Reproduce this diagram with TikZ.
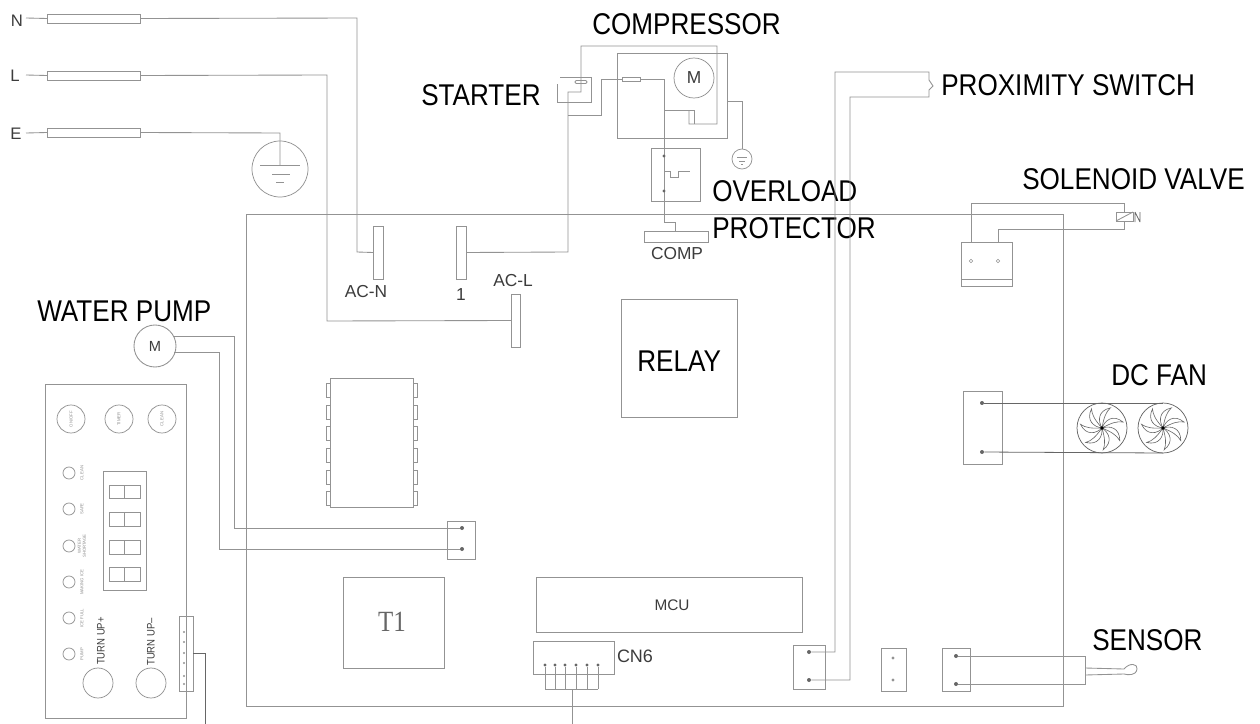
\documentclass[tikz,border=0pt]{standalone}
\usepackage{fontspec}
\setmainfont{Liberation Sans}
\newfontfamily\narrowf[FakeStretch=0.87]{Liberation Sans}
\newfontfamily\serf[FakeStretch=0.85]{Liberation Serif}
\definecolor{wire}{HTML}{939393}
\definecolor{darkw}{HTML}{666666}
\definecolor{smalltxt}{HTML}{3C3C3C}
\definecolor{tinyc}{HTML}{8E8E8E}
\tikzset{
  wirep/.style={draw=wire,line width=0.65pt,line join=miter},
  boxs/.style={draw=wire,line width=0.65pt,rectangle,inner sep=0pt,outer sep=0pt},
  roundc/.style={draw=wire,line width=0.55pt,circle,inner sep=0pt,outer sep=0pt},
  pindot/.style={circle,fill=darkw,inner sep=0pt,minimum size=3pt},
  biglab/.style={font=\narrowf\fontsize{22.5pt}{24pt}\selectfont,text=black,inner sep=0pt,anchor=base west},
  midlab/.style={font=\fontsize{13pt}{15pt}\selectfont,text=smalltxt,inner sep=0pt,anchor=base},
  mainslab/.style={font=\fontsize{12.5pt}{14pt}\selectfont,text=smalltxt,inner sep=0pt},
  tinylab/.style={font=\fontsize{3.2pt}{3.8pt}\selectfont,text=tinyc,inner sep=0pt,rotate=90,align=center},
  panellab/.style={font=\narrowf\fontsize{8.2pt}{10pt}\selectfont,text=smalltxt,inner sep=0pt,rotate=90},
}
\newcommand{\bx}[5]{\node[boxs,minimum width={(#4-#2)*0.75pt},minimum height={(#5-#3)*0.75pt}] (#1) at ({(#2+#4)/2},{(#3+#5)/2}) {};}
\newcommand{\fanblades}[1]{%
  \foreach \a in {0,51.43,...,308.6}{%
    \draw[draw=darkw,line width=0.45pt,shift={(#1)},rotate=\a]
      (0,0) .. controls (3,-8) and (11,-14) .. (21,-6)
      .. controls (15,-7) and (9,-5) .. (0,0);
  }%
  \fill[black] (#1) circle (1.8);
}
\begin{document}
\begin{tikzpicture}[x=0.75pt,y=-0.75pt]
\useasboundingbox[fill=white] (0,0) rectangle (1260,724);
% board
\bx{board}{246}{214}{1063}{706}
% mains
\node[mainslab] (labN) at (17,21) {N};
\node[mainslab] (labL) at (15,76) {L};
\node[mainslab] (labE) at (16,134) {E};
\bx{fuseN}{47}{14}{140}{23}
\bx{fuseL}{47}{71}{140}{80}
\bx{fuseE}{47}{128}{140}{137}
\draw[wirep] (26,18) -- (fuseN.west);
\draw[wirep] (26,75) -- (fuseL.west);
\draw[wirep] (26,133) -- (fuseE.west);
\bx{acn}{373}{226}{383}{279}
\bx{one}{456}{226}{466}{279}
\bx{acl}{511}{294}{520}{347}
\node[midlab] (tacn) at (366,297) {AC-N};
\node[midlab] (tonelab) at (461,300) {1};
\node[midlab] (tacl) at (513,286) {AC-L};
\draw[wirep] (fuseN.east) -- (357,18) -- (357,252) -- (acn.west);
\draw[wirep] (fuseL.east) -- (327,75) -- (327,321) -- (acl.west);
% ground
\node[roundc,minimum size={56*0.75pt}] (gnd) at (280,169) {};
\draw[wirep] (fuseE.east) -- (280,133) -- (280,165);
\draw[wirep] (260,165) -- (300,165);
\draw[wirep] (272,174) -- (290,174);
\draw[wirep] (276,182) -- (284,182);
% starter
\draw[wirep] (560,77) -- (591,77) -- (591,102) -- (557,102) -- (557,84);
\node[boxs,rounded corners=1pt,minimum width={12*0.75pt},minimum height={3*0.75pt}] (startosc) at (581,82) {};
\draw[wirep] (one.east) -- (568,252) -- (568,92) -- (581,92) -- (581,46) -- (717,46) -- (717,124) -- (689,124) -- (689,110);
% compressor
\bx{comp}{617}{53}{727}{138}
\node[roundc,minimum size={40*0.75pt}] (motor) at (694,78) {};
\node[font=\fontsize{13pt}{15pt}\selectfont,text=smalltxt,inner sep=0pt] (tM) at (694,78) {M};
\bx{ptc}{622}{77}{640}{81}
\draw[wirep] (568,115) -- (601,115) -- (601,79) -- (ptc.west);
\bx{compcon}{644}{231}{708}{242}
\draw[wirep] (ptc.east) -- (664,79) -- (664,222) -- (675,222) -- (compcon.north -| 675,0);
\draw[wirep] (664,110) -- (694,110) -- (694,124);
% overload
\bx{olp}{651}{148}{700}{201}
\node[pindot,minimum size=2.5pt] (od1) at (664,156) {};
\node[pindot,minimum size=2.5pt] (od2) at (664,191) {};
\draw[wirep] (664,171) -- (670,171) -- (670,177) -- (678,177) -- (678,171) -- (690,171);
% small ground
\node[roundc,minimum size={20*0.75pt}] (gnd2) at (742,159) {};
\draw[wirep] (comp.east |- 0,101) -- (742,101) -- (gnd2.north);
\draw[wirep,line width=0.5pt] (737,157) -- (747,157) (739,161) -- (745,161) (741,164) -- (743,164);
\node[midlab] (tcomp) at (677,259) {COMP};
% labels
\node[biglab] (lc) at (592,35) {COMPRESSOR};
\node[biglab] (ls) at (421,106) {STARTER};
\node[biglab] (lo) at (712,201) {OVERLOAD};
\node[biglab] (lp) at (712,238) {PROTECTOR};
\node[biglab] (lx) at (941,95) {PROXIMITY SWITCH};
\node[biglab] (lv) at (1022,189) {SOLENOID VALVE};
\node[biglab] (ld) at (1111,385) {DC FAN};
\node[biglab] (ln) at (1092,650) {SENSOR};
\node[biglab] (lw) at (37,321) {WATER PUMP};
% relay, mcu, t1
\bx{relay}{621}{299}{737}{417}
\node[biglab] (trelay) at (637,371) {RELAY};
\bx{mcu}{536}{577}{802}{632}
\node[font=\fontsize{11.5pt}{13pt}\selectfont,text=smalltxt,inner sep=0pt] (tmcu) at (672,605) {MCU};
\bx{tbox}{343}{577}{444}{668}
\node[font=\serf\fontsize{22pt}{24pt}\selectfont,text=darkw,inner sep=0pt] (tt1) at (392,622) {T1};
% IC
\bx{ic}{330}{378}{413}{507}
\foreach \yy in {390,412,433,455,477,498}{
  \draw[wirep,line width=0.5pt] (330,\yy-7) rectangle (326,\yy+7);
  \draw[wirep,line width=0.5pt] (413,\yy-7) rectangle (417,\yy+7);
}
% pump
\node[roundc,minimum size={42*0.75pt},line width=0.65pt] (pump) at (155,346) {};
\node[font=\fontsize{11pt}{13pt}\selectfont,text=smalltxt,inner sep=0pt] (tpm) at (155,346) {M};
\bx{pcon}{447}{521}{475}{559}
\node[pindot] (p1) at (462,528) {};
\node[pindot] (p2) at (462,549) {};
\draw[wirep] (p1) -- (234,528) -- (234,336) -- (173,336);
\draw[wirep] (p2) -- (219,549) -- (219,352) -- (174,352);
% solenoid
\bx{scon}{961}{242}{1012}{286}
\draw[wirep] (961,279) -- (1012,279);
\node[pindot,fill=none,draw=wire,line width=0.4pt,minimum size=2.5pt] (sd1) at (971,261) {};
\node[pindot,fill=none,draw=wire,line width=0.4pt,minimum size=2.5pt] (sd2) at (998,261) {};
\bx{coil}{1116}{212}{1133}{221}
\draw[wirep] (1116,221) -- (1133,212);
\draw[wirep] (971,242) -- (971,203) -- (1124,203) -- (coil.north -| 1124,0);
\draw[wirep] (coil.south -| 1124,0) -- (1124,229) -- (998,229) -- (998,242);
\draw[draw=darkw,line width=0.6pt] (1135,212) -- (1135,222) (1140,212) -- (1140,222) (1135,212) -- (1140,222);
% fans
\bx{fcon}{963}{391}{1002}{464}
\node[pindot] (f1) at (982,403) {};
\node[pindot] (f2) at (982,452) {};
\node[roundc,draw=darkw,minimum size={50*0.75pt}] (fan1) at (1102,428) {};
\node[roundc,draw=darkw,minimum size={50*0.75pt}] (fan2) at (1163,428) {};
\fanblades{1102,428}
\fanblades{1163,428}
\draw[draw=darkw,line width=0.6pt] (f1) -- (fan2.north);
\draw[draw=darkw,line width=0.6pt] (f2) -- (fan2.south);
% proximity
\bx{xcon}{793}{645}{825}{689}
\node[pindot] (x1) at (809,652) {};
\node[pindot] (x2) at (809,680) {};
\draw[wirep] (x1) -- (835,652) -- (835,72) -- (929,72) -- (929,80) -- (933,86) -- (929,90) -- (929,97) -- (850,97) -- (850,680) -- (x2);
% mid connector
\bx{mcon}{881}{648}{906}{691}
\node[pindot,fill=wire,minimum size=2.5pt] (m1) at (893,658) {};
\node[pindot,fill=wire,minimum size=2.5pt] (m2) at (893,680) {};
% sensor
\bx{ncon}{942}{648}{970}{691}
\node[pindot] (n1) at (956,656) {};
\node[pindot] (n2) at (956,684) {};
\draw[wirep] (n1) -- (1085,656) -- (1085,684) -- (n2);
\draw[wirep] (1085,668) -- (1124,669) .. controls (1130,662) and (1138,664) .. (1137,669) .. controls (1136,676) and (1128,675) .. (1124,674) -- (1085,675);
% CN6
\bx{cn}{533}{641}{614}{674}
\node[midlab,font=\fontsize{13.5pt}{15pt}\selectfont,anchor=center] (tcn) at (635,656) {CN6};
\foreach \xx/\nn in {545/a,555/b,565/c,576/d,587/e,598/f}{
  \node[pindot,minimum size=2.5pt] (cn\nn) at (\xx,665) {};
  \draw[wirep,line width=0.6pt] (cn\nn) -- (\xx,689);
}
\draw[wirep] (545,689) -- (598,689);
\coordinate (cnend) at (572,724);
\draw[wirep] (572,689) -- (cnend);
% panel
\bx{panel}{45}{384}{186}{718}
\node[roundc,minimum size={28*0.75pt}] (b1) at (71,419) {};
\node[roundc,minimum size={28*0.75pt}] (b2) at (119,419) {};
\node[roundc,minimum size={28*0.75pt}] (b3) at (162,419) {};
\node[tinylab] (tb1) at (71,419) {ON/OFF};
\node[tinylab] (tb2) at (119,419) {TIMER};
\node[tinylab] (tb3) at (162,419) {CLEAN};
\foreach \yy/\txt/\nn in {473/CLEAN/a,509/SAFE/b,546/{WATER\\SHORTAGE}/c,582/MAKING ICE/d,618/ICE FULL/e,654/PUMP/f}{
  \node[roundc,minimum size={12*0.75pt}] (led\nn) at (69,\yy) {};
  \node[tinylab] (tled\nn) at (82,\yy) {\txt};
}
\bx{disp}{103}{471}{146}{590}
\foreach \ya/\yb/\nn in {485/498/a,512/526/b,540/554/c,567/581/d}{
  \bx{dig\nn}{109}{\ya}{140}{\yb}
  \draw[wirep] (124,\ya) -- (124,\yb);
}
\node[panellab] (tup) at (101,641) {TURN UP+};
\node[panellab] (tdn) at (151,642) {TURN UP–};
\node[roundc,minimum size={30*0.75pt}] (bu) at (98,683) {};
\node[roundc,minimum size={30*0.75pt}] (bd) at (151,683) {};
\bx{pc}{179}{616}{193}{691}
\foreach \yy/\nn in {632/a,642/b,653/c,663/d,676/e,684/f}{
  \node[pindot,minimum size=1.6pt,fill=wire] (pc\nn) at (184,\yy) {};
}
\coordinate (pcend) at (205,724);
\draw[wirep,draw=darkw] (pc.east |- 0,653) -- (205,653) -- (pcend);
\end{tikzpicture}
\end{document}
